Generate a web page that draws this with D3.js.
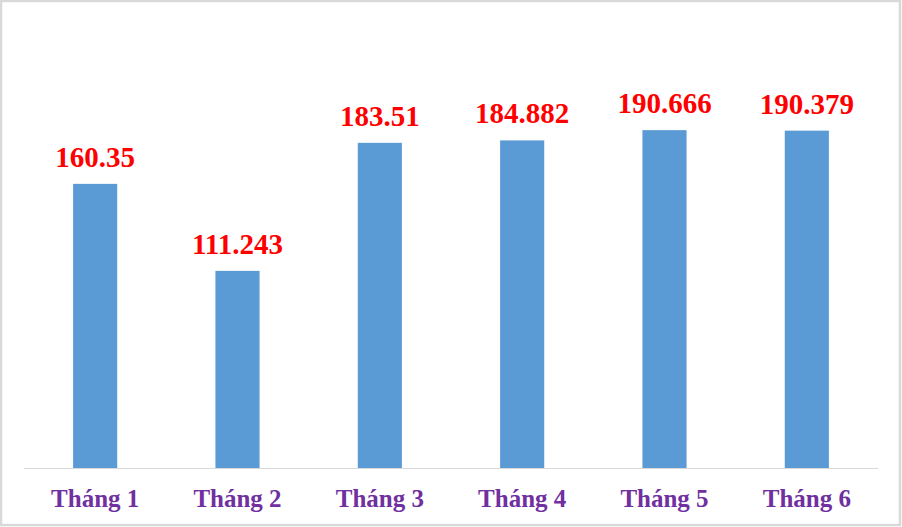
<!DOCTYPE html>
<html>
<head>
<meta charset="utf-8">
<script src="https://cdn.jsdelivr.net/npm/d3@7"></script>
<style>
  body { margin: 0; background: #fff; }
  svg { display: block; }
</style>
</head>
<body>
<svg id="root"></svg>
<script>
const months = ["Tháng 1", "Tháng 2", "Tháng 3", "Tháng 4", "Tháng 5", "Tháng 6"];
const values = [160.35, 111.243, 183.51, 184.882, 190.666, 190.379];
const valueLabels = ["160.35", "111.243", "183.51", "184.882", "190.666", "190.379"];

const W = 902, H = 527;
const plot = { left: 24, right: 878, top: 25, bottom: 468 };

const svg = d3.select("#root").attr("width", W).attr("height", H);

// chart border
svg.append("rect")
  .attr("x", 1).attr("y", 1)
  .attr("width", W - 3).attr("height", H - 3)
  .attr("fill", "#fff")
  .attr("stroke", "#d9d9d9")
  .attr("stroke-width", 2.5);

const x = d3.scaleBand(months, [plot.left, plot.right]).paddingInner(0.69).paddingOuter(0.345);
const y = d3.scaleLinear([0, 250], [plot.bottom, plot.top]);

// bars
svg.append("g").selectAll("rect")
  .data(values)
  .join("rect")
  .attr("x", (d, i) => x(months[i]))
  .attr("y", d => y(d))
  .attr("width", x.bandwidth())
  .attr("height", d => y(0) - y(d))
  .attr("fill", "#5b9bd5");

// baseline
svg.append("line")
  .attr("x1", plot.left).attr("x2", plot.right)
  .attr("y1", y(0) + 0.5).attr("y2", y(0) + 0.5)
  .attr("stroke", "#d9d9d9")
  .attr("stroke-width", 1);

// value labels
svg.append("g").selectAll("text")
  .data(values)
  .join("text")
  .attr("x", (d, i) => x(months[i]) + x.bandwidth() / 2)
  .attr("y", d => y(d) - 17)
  .attr("text-anchor", "middle")
  .attr("font-family", "'Liberation Serif', 'Times New Roman', serif")
  .attr("font-weight", "bold")
  .attr("font-size", 29)
  .attr("fill", "#ff0000")
  .text((d, i) => valueLabels[i]);

// category labels
svg.append("g").selectAll("text")
  .data(months)
  .join("text")
  .attr("x", d => x(d) + x.bandwidth() / 2)
  .attr("y", 507)
  .attr("text-anchor", "middle")
  .attr("font-family", "'Liberation Serif', 'Times New Roman', serif")
  .attr("font-weight", "bold")
  .attr("font-size", 25)
  .attr("fill", "#7030a0")
  .text(d => d);
</script>
</body>
</html>
